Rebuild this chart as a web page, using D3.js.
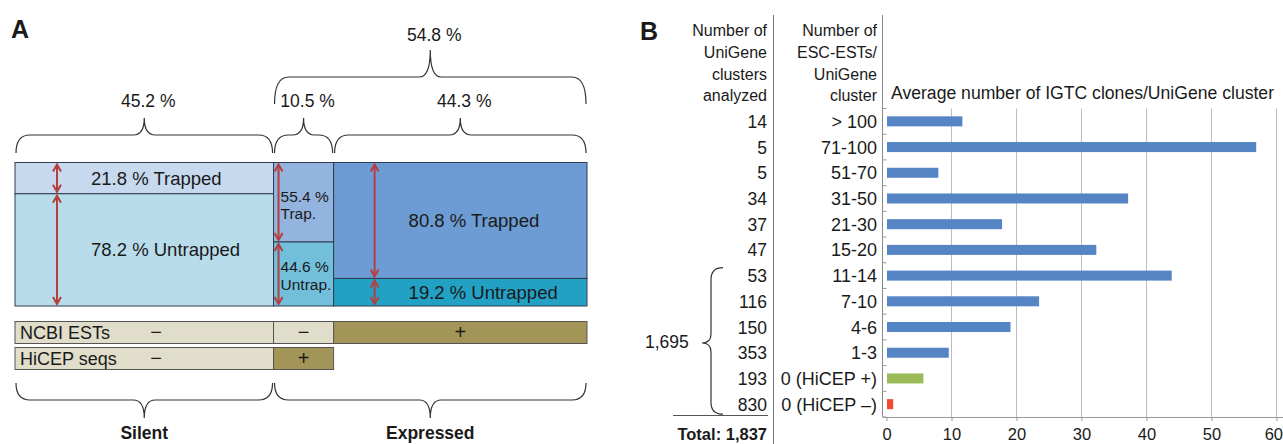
<!DOCTYPE html>
<html><head><meta charset="utf-8">
<script src="https://cdn.jsdelivr.net/npm/d3@7"></script>
<style>
html,body{margin:0;padding:0;background:#fff;}
svg text{font-family:"Liberation Sans",Arial,Helvetica,sans-serif;fill:#1a1a1a;}
</style></head>
<body><svg id="c" width="1283" height="444"></svg>
<script>
// ---------- Panel A data ----------
const groupNames = ["Silent", "HiCEP only", "NCBI"];
const groupShare = [45.2, 10.5, 44.3];
const trappedPct = [21.8, 55.4, 80.8];
const untrappedPct = [78.2, 44.6, 19.2];
const trappedLabels = ["21.8 % Trapped", ["55.4 %", "Trap."], "80.8 % Trapped"];
const untrappedLabels = ["78.2 % Untrapped", ["44.6 %", "Untrap."], "19.2 % Untrapped"];
const expressedShare = 54.8;
const ncbiMarks = ["−", "−", "+"];
const hicepMarks = ["−", "+"];
const trappedColors = ["#c6d9ee", "#93b4de", "#6d9bd3"];
const untrappedColors = ["#b9dcea", "#72bfdb", "#22a1c5"];

// ---------- Panel B data ----------
const clusterCounts = ["14", "5", "5", "34", "37", "47", "53", "116", "150", "353", "193", "830"];
const estCategories = ["> 100", "71-100", "51-70", "31-50", "21-30", "15-20", "11-14", "7-10", "4-6", "1-3", "0 (HiCEP +)", "0 (HiCEP –)"];
const avgClones = [11.6, 56.8, 7.9, 37.1, 17.7, 32.2, 43.8, 23.4, 19.0, 9.5, 5.6, 0.95];
const barColors = ["#5585c5", "#5585c5", "#5585c5", "#5585c5", "#5585c5", "#5585c5", "#5585c5", "#5585c5", "#5585c5", "#5585c5", "#9bbb59", "#ee4a2b"];
const xTicks = [0, 10, 20, 30, 40, 50, 60];
const col1Header = ["Number of", "UniGene", "clusters", "analyzed"];
const col2Header = ["Number of", "ESC-ESTs/", "UniGene", "cluster"];

const svg = d3.select("#c");
const ink = "#1a1a1a";

function hBrace(x1, x2, yEnd, yMid, yTip, xc) {
  xc = xc === undefined ? (x1 + x2) / 2 : xc;
  const r = 14, t = 11;
  return `M${x1},${yEnd} Q${x1},${yMid} ${x1 + r},${yMid} L${xc - t},${yMid} Q${xc},${yMid} ${xc},${yTip} Q${xc},${yMid} ${xc + t},${yMid} L${x2 - r},${yMid} Q${x2},${yMid} ${x2},${yEnd}`;
}
function vBrace(xEnd, xMid, xTip, y1, y2, yc) {
  const r = 12, t = 9;
  return `M${xEnd},${y1} Q${xMid},${y1} ${xMid},${y1 + r} L${xMid},${yc - t} Q${xMid},${yc} ${xTip},${yc} Q${xMid},${yc} ${xMid},${yc + t} L${xMid},${y2 - r} Q${xMid},${y2} ${xEnd},${y2}`;
}

// ================= Panel A =================
const A = svg.append("g");
A.append("text").attr("x", 11).attr("y", 38).attr("font-size", 25).attr("font-weight", "bold").text("A");

const cum = [0];
groupShare.forEach((v, i) => cum.push(cum[i] + v));
const xA = d3.scaleLinear().domain([0, 100]).range([15, 587]);
const yA = d3.scaleLinear().domain([0, 100]).range([162.5, 306]);

// mosaic
groupShare.forEach((v, i) => {
  const x0 = xA(cum[i]), x1 = xA(cum[i + 1]);
  A.append("rect").attr("x", x0).attr("y", yA(0)).attr("width", x1 - x0).attr("height", yA(trappedPct[i]) - yA(0))
    .attr("fill", trappedColors[i]).attr("stroke", "#2f3d4c").attr("stroke-width", 1);
  A.append("rect").attr("x", x0).attr("y", yA(trappedPct[i])).attr("width", x1 - x0).attr("height", yA(100) - yA(trappedPct[i]))
    .attr("fill", untrappedColors[i]).attr("stroke", "#2f3d4c").attr("stroke-width", 1);
});

// labels in mosaic (left-aligned after the arrow)
[0, 2].forEach(i => {
  const xl = xA(cum[i]) + (i === 0 ? 76 : 75);
  A.append("text").attr("x", xl).attr("y", (yA(0) + yA(trappedPct[i])) / 2 + 6.5)
    .attr("font-size", 18.5).text(trappedLabels[i]);
  A.append("text").attr("x", xl).attr("y", (yA(trappedPct[i]) + yA(100)) / 2 + 6.5)
    .attr("font-size", 18.5).text(untrappedLabels[i]);
});
{
  const xl = xA(cum[1]) + 7;
  const tl = A.append("text").attr("font-size", 15.5);
  tl.append("tspan").attr("x", xl).attr("y", 201.5).text(trappedLabels[1][0]);
  tl.append("tspan").attr("x", xl).attr("y", 219).text(trappedLabels[1][1]);
  const ul = A.append("text").attr("font-size", 15.5);
  ul.append("tspan").attr("x", xl).attr("y", 272).text(untrappedLabels[1][0]);
  ul.append("tspan").attr("x", xl).attr("y", 290).text(untrappedLabels[1][1]);
}

// arrows
const arrowColor = "#b53f3f";
const arrowX = [xA(cum[0]) + 42, xA(cum[1]) + 5, xA(cum[2]) + 41];
function dArrow(x, y1, y2) {
  const g = A.append("g").attr("stroke", arrowColor).attr("stroke-width", 2).attr("fill", "none");
  g.append("line").attr("x1", x).attr("x2", x).attr("y1", y1 + 1).attr("y2", y2 - 1);
  g.append("path").attr("d", `M${x - 4},${y1 + 8} L${x},${y1 + 1} L${x + 4},${y1 + 8}`);
  g.append("path").attr("d", `M${x - 4},${y2 - 8} L${x},${y2 - 1} L${x + 4},${y2 - 8}`);
}
groupShare.forEach((v, i) => {
  dArrow(arrowX[i], yA(0) + 1, yA(trappedPct[i]) - 1);
  dArrow(arrowX[i], yA(trappedPct[i]) + 1, yA(100) - 1);
});

// top braces
function applyStroke(sel) { return sel.attr("stroke", "#333").attr("stroke-width", 1.2).attr("fill", "none"); }
groupShare.forEach((v, i) => {
  const x0 = xA(cum[i]), x1 = xA(cum[i + 1]);
  applyStroke(A.append("path").attr("d", hBrace(x0 + 1, x1 - 1, 153, 135, 118)));
  A.append("text").attr("x", (x0 + x1) / 2 + 4).attr("y", 107).attr("text-anchor", "middle").attr("font-size", 17.5)
    .text(v.toFixed(1) + " %");
});
applyStroke(A.append("path").attr("d", hBrace(xA(cum[1]) + 1, xA(100) - 1, 104, 77, 50)));
A.append("text").attr("x", (xA(cum[1]) + xA(100)) / 2 + 4).attr("y", 41).attr("text-anchor", "middle").attr("font-size", 17.5)
  .text(expressedShare.toFixed(1) + " %");

// NCBI / HiCEP rows
const beige = "#e0ddca", olive = "#a39558";
function rowSeg(x0, x1, y, h, fill) {
  A.append("rect").attr("x", x0).attr("y", y).attr("width", x1 - x0).attr("height", h)
    .attr("fill", fill).attr("stroke", "#555").attr("stroke-width", 1);
}
ncbiMarks.forEach((m, i) => {
  const x0 = xA(cum[i]), x1 = xA(cum[i + 1]);
  rowSeg(x0, x1, 321.5, 22, m === "+" ? olive : beige);
  A.append("text").attr("x", i === 0 ? 156 : (x0 + x1) / 2).attr("y", 339).attr("text-anchor", "middle")
    .attr("font-size", 20).text(m);
});
hicepMarks.forEach((m, i) => {
  const x0 = xA(cum[i]), x1 = xA(cum[i + 1]);
  rowSeg(x0, x1, 347.5, 22, m === "+" ? olive : beige);
  A.append("text").attr("x", i === 0 ? 156 : (x0 + x1) / 2).attr("y", 365).attr("text-anchor", "middle")
    .attr("font-size", 20).text(m);
});
A.append("text").attr("x", 20).attr("y", 338.5).attr("font-size", 18).text("NCBI ESTs");
A.append("text").attr("x", 20).attr("y", 364.5).attr("font-size", 18).text("HiCEP seqs");

// bottom braces
applyStroke(A.append("path").attr("d", hBrace(xA(0) + 1, xA(cum[1]) - 1, 383, 400, 418)));
applyStroke(A.append("path").attr("d", hBrace(xA(cum[1]) + 1, xA(100) - 1, 383, 400, 418)));
A.append("text").attr("x", (xA(0) + xA(cum[1])) / 2).attr("y", 439).attr("text-anchor", "middle")
  .attr("font-size", 17.5).attr("font-weight", "bold").text("Silent");
A.append("text").attr("x", (xA(cum[1]) + xA(100)) / 2).attr("y", 439).attr("text-anchor", "middle")
  .attr("font-size", 17.5).attr("font-weight", "bold").text("Expressed");

// ================= Panel B =================
const B = svg.append("g");
B.append("text").attr("x", 640).attr("y", 40).attr("font-size", 25).attr("font-weight", "bold").text("B");

const x = d3.scaleLinear().domain([0, 60]).range([886.5, 1276.5]);
const y = d3.scaleBand().domain(estCategories).range([108.5, 417]).paddingInner(0.61).paddingOuter(0.305);
const step = y.step();
const rowC = c => y(c) + y.bandwidth() / 2;

// headers
const hdrY = [35.5, 57.5, 79.5, 101];
col1Header.forEach((t, i) => B.append("text").attr("x", 767).attr("y", hdrY[i]).attr("text-anchor", "end").attr("font-size", 16).text(t));
col2Header.forEach((t, i) => B.append("text").attr("x", 877).attr("y", hdrY[i]).attr("text-anchor", "end").attr("font-size", 16).text(t));
B.append("text").attr("x", 891).attr("y", 98.5).attr("font-size", 17.6).text("Average number of IGTC clones/UniGene cluster");

// separators
B.append("line").attr("x1", 773.5).attr("x2", 773.5).attr("y1", 15).attr("y2", 444).attr("stroke", "#777").attr("stroke-width", 1);
B.append("line").attr("x1", 882.5).attr("x2", 882.5).attr("y1", 15).attr("y2", 417).attr("stroke", "#888").attr("stroke-width", 1);

// gridlines
B.append("g").selectAll("line").data(xTicks.slice(1)).join("line")
  .attr("x1", d => x(d)).attr("x2", d => x(d)).attr("y1", 108.5).attr("y2", 417)
  .attr("stroke", "#bcbcc2").attr("stroke-width", 1);

// x axis
const xAxis = B.append("g").attr("transform", "translate(0,417)")
  .call(d3.axisBottom(x).tickValues(xTicks).tickSize(4).tickPadding(6));
xAxis.select(".domain").attr("d", `M882.5,0.5H1283`).attr("stroke", "#999");
xAxis.selectAll(".tick line").attr("stroke", "#999");
xAxis.selectAll(".tick text").attr("font-size", 16.5).attr("fill", ink).attr("dy", "0.8em")
  .style("font-family", '"Liberation Sans",Arial,sans-serif')
  .filter(d => d === 60).attr("text-anchor", "end").attr("x", 6);

// category ticks (between rows)
const bounds = d3.range(estCategories.length + 1).map(i => 108.5 + i * step);
B.append("g").selectAll("line").data(bounds).join("line")
  .attr("x1", 882.5).attr("x2", 886.5).attr("y1", d => d).attr("y2", d => d)
  .attr("stroke", "#999").attr("stroke-width", 1);

// bars
B.append("g").selectAll("rect").data(estCategories).join("rect")
  .attr("x", x(0) + 0.5).attr("y", d => y(d))
  .attr("width", (d, i) => x(avgClones[i]) - x(0))
  .attr("height", y.bandwidth())
  .attr("fill", (d, i) => barColors[i]);

// row labels
estCategories.forEach((c, i) => {
  B.append("text").attr("x", 877).attr("y", rowC(c) + 6.5).attr("text-anchor", "end").attr("font-size", 18).text(c);
  B.append("text").attr("x", 767).attr("y", rowC(c) + 6.5).attr("text-anchor", "end").attr("font-size", 17.5).text(clusterCounts[i]);
});

// brace for 1,695
const bTop = rowC(estCategories[6]) - 8, bBot = rowC(estCategories[11]) + 10;
B.append("path").attr("d", vBrace(723, 711, 702, bTop, bBot, 343)).attr("stroke", "#333").attr("stroke-width", 1.2).attr("fill", "none");
B.append("text").attr("x", 645).attr("y", 348).attr("font-size", 17.5).text("1,695");

// total line
B.append("line").attr("x1", 673).attr("x2", 768).attr("y1", 415.5).attr("y2", 415.5).attr("stroke", "#555").attr("stroke-width", 1);
B.append("text").attr("x", 767).attr("y", 440).attr("text-anchor", "end").attr("font-size", 16.5).attr("font-weight", "bold").text("Total: 1,837");
</script>
</body></html>
